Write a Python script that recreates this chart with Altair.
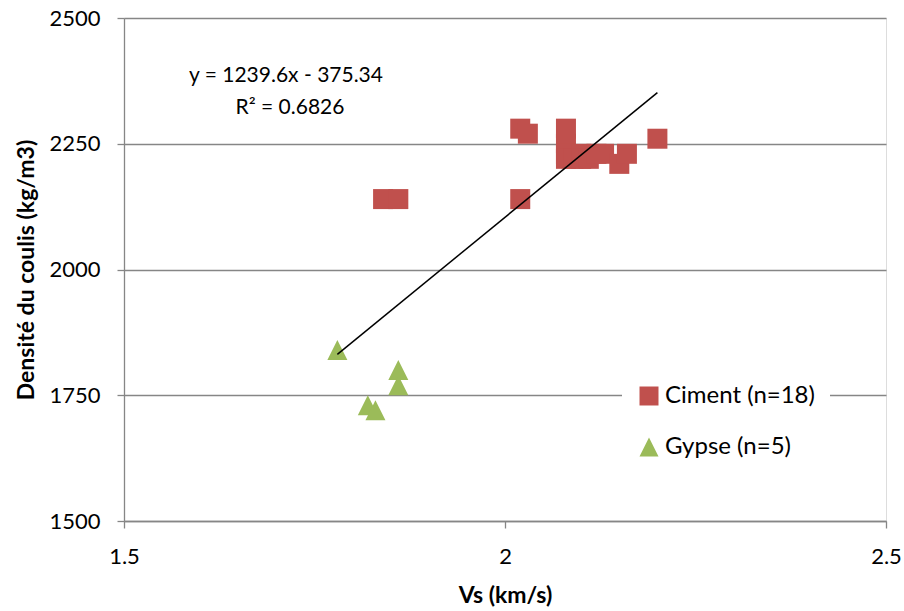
import altair as alt
import pandas as pd

# Ciment samples: shear-wave velocity (km/s) and grout density (kg/m3)
ciment_vs = [1.84, 1.86, 2.02, 2.03, 2.02, 2.08, 2.08, 2.08, 2.08,
             2.09, 2.10, 2.10, 2.11, 2.12, 2.13, 2.15, 2.16, 2.20]
ciment_rho = [2140, 2140, 2280, 2270, 2140, 2280, 2250, 2230, 2220,
              2220, 2230, 2220, 2220, 2230, 2230, 2210, 2230, 2260]

# Gypse samples
gypse_vs = [1.78, 1.82, 1.83, 1.86, 1.86]
gypse_rho = [1840, 1730, 1720, 1800, 1770]

series_names = ["Ciment (n=18)", "Gypse (n=5)"]
series_colors = ["#C0504D", "#9BBB59"]
# square, and an upward triangle as tall as it is wide
series_shapes = ["square", "M0,-1L1,1L-1,1Z"]

# Linear trend y = a*x + b
slope = 1239.6
intercept = -375.34
equation_text = "y = 1239.6x - 375.34"
r2_text = "R² = 0.6826"

FONT = "Lato"

points = pd.DataFrame({
    "vs": ciment_vs + gypse_vs,
    "rho": ciment_rho + gypse_rho,
    "serie": [series_names[0]] * len(ciment_vs) + [series_names[1]] * len(gypse_vs),
})

all_vs = ciment_vs + gypse_vs
trend_x = [min(all_vs), max(all_vs)]
trend = pd.DataFrame({"vs": trend_x, "rho": [slope * v + intercept for v in trend_x]})

x_scale = alt.Scale(domain=[1.5, 2.5], nice=False, zero=False)
y_scale = alt.Scale(domain=[1500, 2500], nice=False, zero=False)

x_axis = alt.Axis(
    title="Vs (km/s)", values=[1.5, 2, 2.5], format="~g", grid=False,
    domainColor="#868686", domainWidth=1.3, tickColor="#868686", tickWidth=1.3, tickSize=7,
    labelFontSize=22, labelColor="black", labelPadding=18, labelFont=FONT,
    titleFont=FONT, titleFontSize=23, titleFontWeight="bold", titleColor="black",
    titlePadding=17, labelFlush=False,
)
y_axis = alt.Axis(
    title="Densité du coulis (kg/m3)", values=[1500, 1750, 2000, 2250, 2500], format="d",
    grid=True, gridColor="#868686", gridWidth=1.3,
    domainColor="#868686", domainWidth=1.3, tickColor="#868686", tickWidth=1.3, tickSize=7,
    labelFontSize=22, labelColor="black", labelPadding=17, labelFont=FONT,
    titleFont=FONT, titleFontSize=23, titleFontWeight="bold", titleColor="black",
    titlePadding=10,
)

scatter = alt.Chart(points).mark_point(filled=True, opacity=1, size=400, strokeWidth=0).encode(
    x=alt.X("vs:Q", scale=x_scale, axis=x_axis),
    y=alt.Y("rho:Q", scale=y_scale, axis=y_axis),
    color=alt.Color("serie:N", scale=alt.Scale(domain=series_names, range=series_colors),
                    legend=alt.Legend(
                        title=None, orient="none", legendX=498, legendY=351,
                        fillColor="white", padding=15, labelFontSize=24, labelFont=FONT,
                        labelColor="black", symbolSize=361, rowPadding=27,
                        symbolOpacity=1, symbolStrokeWidth=0, labelOffset=4)),
    shape=alt.Shape("serie:N", scale=alt.Scale(domain=series_names, range=series_shapes)),
)

line = alt.Chart(trend).mark_line(color="black", strokeWidth=1.5).encode(
    x=alt.X("vs:Q", scale=x_scale),
    y=alt.Y("rho:Q", scale=y_scale),
)

labels = pd.DataFrame({"txt": [equation_text, r2_text]})
eq = alt.Chart(labels.iloc[[0]]).mark_text(
    font=FONT, fontSize=21, color="black", align="center", baseline="middle"
).encode(text="txt:N", x=alt.value(162), y=alt.value(58))
r2 = alt.Chart(labels.iloc[[1]]).mark_text(
    font=FONT, fontSize=21, color="black", align="center", baseline="middle"
).encode(text="txt:N", x=alt.value(166), y=alt.value(90))

chart = (scatter + line + eq + r2).properties(
    width=762, height=503,
    autosize=alt.AutoSizeParams(type="none"),
    padding={"left": 124, "top": 18, "right": 18, "bottom": 90},
).configure_view(stroke=None).configure(background="white")

chart.save("out.html", embed_options={"renderer": "svg", "actions": False})
